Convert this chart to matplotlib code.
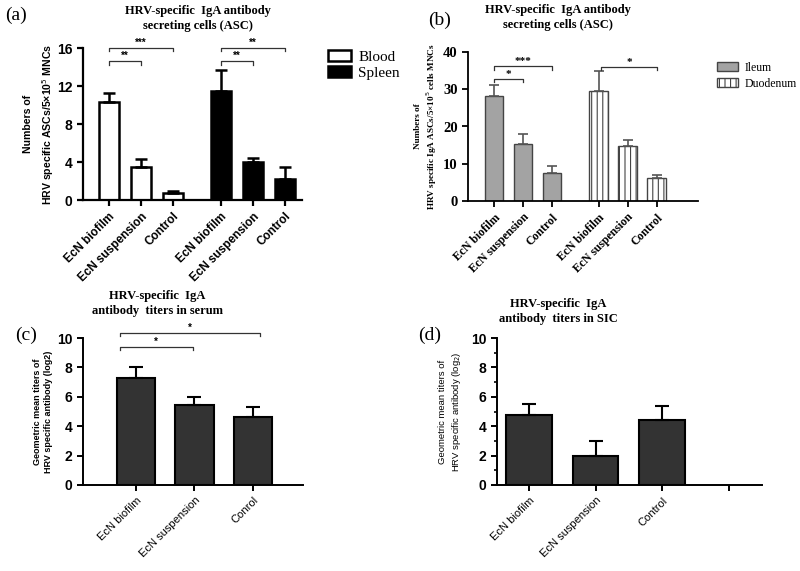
import numpy as np
import matplotlib.pyplot as plt
import matplotlib as mpl

mpl.rcParams['hatch.linewidth'] = 0.8

SANS = 'Liberation Sans'
SERIF = 'Liberation Serif'

# data
groups = ['EcN biofilm', 'EcN suspension', 'Control']

blood = [10.3, 3.5, 0.7]
blood_err = [1.0, 0.8, 0.3]
spleen = [11.5, 4.0, 2.2]
spleen_err = [2.2, 0.4, 1.3]

ileum = [28.1, 15.4, 7.6]
ileum_err = [3.0, 2.5, 1.7]
duodenum = [29.6, 14.8, 6.2]
duodenum_err = [5.4, 1.7, 0.8]

serum_labels = ['EcN biofilm', 'EcN suspension', 'Conrol']
serum = [7.3, 5.45, 4.65]
serum_err = [0.7, 0.55, 0.65]

sic_labels = ['EcN biofilm', 'EcN suspension', 'Control', '']
sic = [4.75, 2.0, 4.45]
sic_err = [0.75, 1.0, 0.95]


def style_axes(ax, lw=1.4):
    for s in ['top', 'right']:
        ax.spines[s].set_visible(False)
    for s in ['left', 'bottom']:
        ax.spines[s].set_linewidth(lw)
    ax.tick_params(width=lw, length=4, direction='out')


def bracket(ax, x1, x2, y, txt, cap, fs, family=SANS):
    ax.plot([x1, x1, x2, x2], [y - cap, y, y, y - cap], color='#333333',
            lw=0.9, clip_on=False)
    ax.text((x1 + x2) / 2, y, txt, ha='center', va='bottom', fontsize=fs,
            family=family, fontweight='bold')


def up_err(vals, errs):
    return [[0] * len(vals), errs]


fig = plt.figure(figsize=(8, 5.71), dpi=100)

# ---------------- (a)
ax = fig.add_axes([83 / 800, 1 - 200 / 571, 219 / 800, 152 / 571])
pos_a = np.array([0, 1, 2])
pos_b = pos_a + 3.5
ek = dict(ecolor='black', elinewidth=1.8, capsize=4, capthick=1.8)
b1 = ax.bar(pos_a, blood, 0.62, yerr=up_err(blood, blood_err), color='white',
            edgecolor='black', linewidth=1.8, error_kw=ek)
b2 = ax.bar(pos_b, spleen, 0.62, yerr=up_err(spleen, spleen_err), color='black',
            edgecolor='black', linewidth=1.8, error_kw=ek)
ax.set_ylim(0, 16)
ax.set_xlim(-0.81, 6.03)
ax.set_yticks([0, 4, 8, 12, 16])
ax.set_xticks(np.concatenate([pos_a, pos_b]))
ax.set_xticklabels(groups * 2, rotation=45, ha='right', rotation_mode='anchor',
                   fontsize=8.5, family=SANS, fontweight='bold')
for t in ax.get_yticklabels():
    t.set_fontsize(10); t.set_family(SANS); t.set_fontweight('bold')
style_axes(ax, 1.6)
ax.set_ylabel('Numbers of\nHRV specific ASCs/5×10$^5$ MNCs', fontsize=7.6,
              family=SANS, fontweight='bold', labelpad=1, linespacing=1.6)
bracket(ax, 0, 2, 16.0, '***', 0.35, 7)
bracket(ax, 0, 1, 14.6, '**', 0.35, 7)
bracket(ax, 3.5, 5.5, 16.0, '**', 0.35, 7)
bracket(ax, 3.5, 4.5, 14.6, '**', 0.35, 7)
fig.text(198 / 800, 1 - 5 / 571, 'HRV-specific  IgA antibody\nsecreting cells (ASC)',
         ha='center', va='top', fontsize=9, family=SERIF, fontweight='bold',
         linespacing=1.3)
fig.text(5 / 800, 1 - 15 / 571, '(a)', fontsize=14, family=SERIF, va='center')
fig.legend([b1, b2], ['Blood', 'Spleen'], loc='upper left',
           bbox_to_anchor=(314 / 800, 1 - 36 / 571), frameon=False,
           prop={'family': SERIF, 'size': 11}, handlelength=1.5,
           handleheight=0.75, labelspacing=0.15, handletextpad=0.5)

# ---------------- (b)
ax = fig.add_axes([468 / 800, 1 - 201 / 571, 230 / 800, 149 / 571])
pos_a = np.array([0, 1, 2])
pos_b = pos_a + 3.6
ek = dict(ecolor='#555555', elinewidth=1.2, capsize=3.5, capthick=1.2)
c1 = ax.bar(pos_a, ileum, 0.63, yerr=up_err(ileum, ileum_err), color='#a3a3a3',
            edgecolor='#444444', linewidth=1.0, error_kw=ek)
c2 = ax.bar(pos_b, duodenum, 0.63, yerr=up_err(duodenum, duodenum_err),
            color='white', edgecolor='#444444', linewidth=1.0, hatch='|||',
            error_kw=ek)
ax.set_ylim(0, 40)
ax.set_xlim(-0.9, 7.03)
ax.set_yticks([0, 10, 20, 30, 40])
ax.set_xticks(np.concatenate([pos_a, pos_b]))
ax.set_xticklabels(groups * 2, rotation=45, ha='right', rotation_mode='anchor',
                   fontsize=8.5, family=SERIF, fontweight='bold')
for t in ax.get_yticklabels():
    t.set_fontsize(10.5); t.set_family(SERIF); t.set_fontweight('bold')
style_axes(ax, 1.3)
ax.set_ylabel('Numbers of\nHRV specific IgA ASCs/5×10$^5$ cells MNCs', fontsize=6.6,
              family=SERIF, fontweight='bold', labelpad=3)
bracket(ax, 0, 2, 36.2, '***', 0.9, 8, SERIF)
bracket(ax, 0, 1, 32.8, '*', 0.9, 8, SERIF)
bracket(ax, 3.7, 5.6, 36.0, '*', 0.9, 8, SERIF)
fig.text(558 / 800, 1 - 4 / 571, 'HRV-specific  IgA antibody\nsecreting cells (ASC)',
         ha='center', va='top', fontsize=9, family=SERIF, fontweight='bold',
         linespacing=1.35)
fig.text(428 / 800, 1 - 20 / 571, '(b)', fontsize=14, family=SERIF, va='center')
fig.legend([c1, c2], ['Ileum', 'Duodenum'], loc='upper left',
           bbox_to_anchor=(706 / 800, 1 - 51 / 571), frameon=False,
           prop={'family': SERIF, 'size': 8.5}, handlelength=1.8,
           handleheight=0.8, labelspacing=0.35, handletextpad=0.6)

# ---------------- (c)
ax = fig.add_axes([83 / 800, 1 - 485 / 571, 220 / 800, 147 / 571])
pos = np.arange(3)
ek = dict(ecolor='black', elinewidth=1.5, capsize=5, capthick=1.5)
ax.bar(pos, serum, 0.65, yerr=up_err(serum, serum_err), color='#333333',
       edgecolor='black', linewidth=1.5, error_kw=ek)
ax.set_ylim(0, 10)
ax.set_xlim(-0.9, 2.85)
ax.set_yticks([0, 2, 4, 6, 8, 10])
ax.set_xticks(pos)
ax.set_xticklabels(serum_labels, rotation=45, ha='right', rotation_mode='anchor',
                   fontsize=8, family=SANS)
for t in ax.get_yticklabels():
    t.set_fontsize(10); t.set_family(SANS); t.set_fontweight('bold')
style_axes(ax, 1.4)
ax.set_ylabel('Geometric mean titers of\nHRV specific antibody (log2)', fontsize=6.5,
              family=SANS, fontweight='bold', labelpad=3, linespacing=1.3)
bracket(ax, -0.27, 2.12, 10.34, '*', 0.2, 7)
bracket(ax, -0.27, 0.97, 9.4, '*', 0.2, 7)
fig.text(157 / 800, 1 - 290 / 571, 'HRV-specific  IgA\nantibody  titers in serum',
         ha='center', va='top', fontsize=9, family=SERIF, fontweight='bold',
         linespacing=1.35)
fig.text(15 / 800, 1 - 335 / 571, '(c)', fontsize=14, family=SERIF, va='center')

# ---------------- (d)
ax = fig.add_axes([497 / 800, 1 - 485 / 571, 265 / 800, 147 / 571])
pos = np.arange(3)
ax.bar(pos, sic, 0.68, yerr=up_err(sic, sic_err), color='#333333',
       edgecolor='black', linewidth=1.5, error_kw=ek)
ax.set_ylim(0, 10)
ax.set_xlim(-0.48, 3.5)
ax.set_yticks([0, 2, 4, 6, 8, 10])
ax.set_yticks(np.arange(0, 11, 1), minor=True)
ax.set_xticks(np.arange(4))
ax.set_xticklabels(sic_labels, rotation=45, ha='right', rotation_mode='anchor',
                   fontsize=8, family=SANS)
for t in ax.get_yticklabels():
    t.set_fontsize(10); t.set_family(SANS); t.set_fontweight('bold')
style_axes(ax, 1.4)
ax.tick_params(axis='y', which='minor', length=2.5, width=1.2)
ax.set_ylabel('Geometric mean titers of\nHRV specific antibody (log$_2$)', fontsize=6.8,
              family=SANS, labelpad=6, linespacing=1.3)
fig.text(558 / 800, 1 - 298 / 571, 'HRV-specific  IgA\nantibody  titers in SIC',
         ha='center', va='top', fontsize=9, family=SERIF, fontweight='bold',
         linespacing=1.35)
fig.text(418 / 800, 1 - 335 / 571, '(d)', fontsize=14, family=SERIF, va='center')

fig.savefig('out.png', dpi=100)
